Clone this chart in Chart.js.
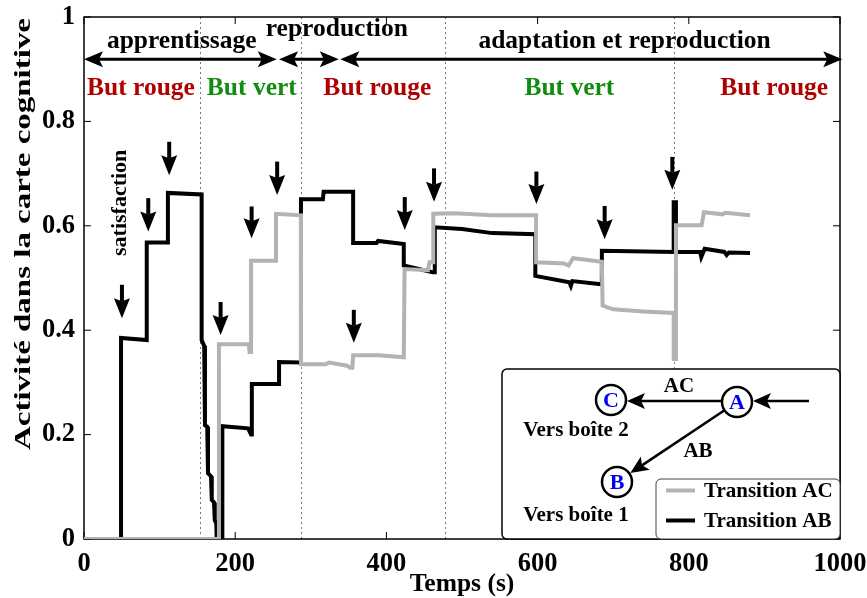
<!DOCTYPE html>
<html><head><meta charset="utf-8">
<script src="https://cdn.jsdelivr.net/npm/chart.js@4/dist/chart.umd.min.js"></script>
<style>html,body{margin:0;padding:0;background:#fff;}canvas{display:block;}</style>
</head><body>
<canvas id="c" width="867" height="598"></canvas>
<script>
const FONT = '"Liberation Serif", "Times New Roman", serif';

// ---- axes ----
const xTicks = [0, 200, 400, 600, 800, 1000];
const xTickLabels = ['0', '200', '400', '600', '800', '1000'];
const yTicks = [0, 0.2, 0.4, 0.6, 0.8, 1];
const yTickLabels = ['0', '0.2', '0.4', '0.6', '0.8', '1'];

// ---- series: Transition AC (gray) ----
const acTime  = [0, 178.5, 178.5, 218, 219, 221, 221, 254, 254, 287, 287, 320, 324, 348, 352, 355, 356, 390, 423, 424, 455, 457, 462, 462, 490, 540, 598, 598, 635, 641, 647, 685, 686, 700, 740, 780, 780, 783, 783, 817, 820, 845, 848, 881];
const acValue = [0, 0, 0.373, 0.373, 0.358, 0.358, 0.533, 0.533, 0.623, 0.62, 0.335, 0.335, 0.338, 0.332, 0.328, 0.328, 0.352, 0.352, 0.348, 0.517, 0.515, 0.53, 0.53, 0.623, 0.624, 0.62, 0.62, 0.53, 0.528, 0.524, 0.538, 0.531, 0.447, 0.44, 0.436, 0.433, 0.345, 0.345, 0.601, 0.601, 0.626, 0.622, 0.625, 0.62];

// ---- series: Transition AB (black) ----
const abTime  = [0, 49, 49, 83, 83, 111, 111, 155.6, 155.6, 159, 160, 163, 164, 168, 169, 172, 173, 175, 175.5, 183, 183, 217, 221, 222, 222, 258, 258, 287, 287, 316, 317, 356, 356, 387, 389, 423, 423, 461, 464, 464, 500, 540, 597, 597, 642, 644, 646, 684, 685, 780, 780, 783, 783, 815, 816.5, 821, 847, 850, 853, 881];
const abValue = [0, 0, 0.385, 0.381, 0.568, 0.568, 0.663, 0.66, 0.381, 0.37, 0.218, 0.215, 0.126, 0.12, 0.075, 0.07, 0.036, 0.03, 0, 0, 0.216, 0.212, 0.2, 0.2, 0.297, 0.297, 0.339, 0.338, 0.651, 0.651, 0.665, 0.665, 0.567, 0.567, 0.571, 0.565, 0.524, 0.511, 0.511, 0.597, 0.594, 0.586, 0.584, 0.504, 0.492, 0.485, 0.494, 0.488, 0.552, 0.55, 0.645, 0.645, 0.55, 0.55, 0.54, 0.556, 0.55, 0.544, 0.549, 0.548];

// ---- annotations (data units) ----
const phaseBounds = [154, 287, 478, 781];
const phaseArrowStart = [0, 258, 339];
const phaseArrowEnd   = [255, 337, 1003];
const phaseArrowLevel = 0.919;
const phaseLabels = ['apprentissage', 'reproduction', 'adaptation et reproduction'];
const phaseLabelT = [129.3, 334.4, 715];
const phaseLabelV = [0.954, 0.977, 0.954];
const goalLabels = ['But rouge', 'But vert', 'But rouge', 'But vert', 'But rouge'];
const goalKinds  = ['rouge', 'vert', 'rouge', 'vert', 'rouge'];
const goalT = [75.3, 222, 388, 642, 913];
const goalV = 0.863;
const arrowT    = [50.2, 85, 112.7, 180.7, 221.7, 255.5, 356.9, 424.3, 463, 598.4, 688.7, 778.2];
const arrowTail = [0.487, 0.653, 0.761, 0.454, 0.637, 0.723, 0.439, 0.655, 0.71, 0.704, 0.638, 0.732];
const arrowTip  = [0.423, 0.589, 0.697, 0.391, 0.576, 0.659, 0.376, 0.592, 0.646, 0.642, 0.574, 0.669];
const satisfactionT = 48.2, satisfactionV = 0.644;

const COLORS = { rouge: '#b00000', vert: '#118c11', ac: '#b3b3b3', ab: '#000000', node: '#0000ee' };

function headTri(ctx, tx, ty, dx, dy, len, half, notch) {
  const bx = tx - dx * len, by = ty - dy * len;
  const px = -dy, py = dx;
  ctx.beginPath();
  ctx.moveTo(tx, ty);
  ctx.lineTo(bx + px * half, by + py * half);
  ctx.lineTo(tx - dx * (len - notch), ty - dy * (len - notch));
  ctx.lineTo(bx - px * half, by - py * half);
  ctx.closePath();
  ctx.fill();
}
function arrowLine(ctx, x1, y1, x2, y2, lw, len, half, notch) {
  const L = Math.hypot(x2 - x1, y2 - y1);
  const dx = (x2 - x1) / L, dy = (y2 - y1) / L;
  ctx.lineWidth = lw;
  ctx.beginPath();
  ctx.moveTo(x1, y1);
  ctx.lineTo(x2 - dx * (len - notch), y2 - dy * (len - notch));
  ctx.stroke();
  headTri(ctx, x2, y2, dx, dy, len, half, notch);
}

const decor = {
  id: 'decor',
  beforeDatasetsDraw(chart) {
    const { ctx, chartArea: a, scales: { x, y } } = chart;
    ctx.save();
    ctx.strokeStyle = '#777';
    ctx.lineWidth = 1;
    ctx.setLineDash([2, 3]);
    phaseBounds.forEach(t => {
      const px = Math.round(x.getPixelForValue(t)) + 0.5;
      ctx.beginPath(); ctx.moveTo(px, a.top); ctx.lineTo(px, a.bottom); ctx.stroke();
    });
    ctx.setLineDash([]);
    ctx.strokeStyle = '#000';
    ctx.lineWidth = 1.5;
    ctx.strokeRect(a.left, a.top, a.right - a.left, a.bottom - a.top);
    ctx.lineWidth = 1;
    xTicks.forEach(v => {
      const px = x.getPixelForValue(v);
      ctx.beginPath();
      ctx.moveTo(px, a.bottom); ctx.lineTo(px, a.bottom - 7);
      ctx.moveTo(px, a.top); ctx.lineTo(px, a.top + 7);
      ctx.stroke();
    });
    yTicks.forEach(v => {
      const py = y.getPixelForValue(v);
      ctx.beginPath();
      ctx.moveTo(a.left, py); ctx.lineTo(a.left + 7, py);
      ctx.moveTo(a.right, py); ctx.lineTo(a.right - 7, py);
      ctx.stroke();
    });
    ctx.restore();
  },
  afterDatasetsDraw(chart) {
    const { ctx, chartArea: a, scales: { x, y } } = chart;
    ctx.save();
    ctx.fillStyle = '#000'; ctx.strokeStyle = '#000';
    arrowT.forEach((t, i) => {
      const px = x.getPixelForValue(t);
      arrowLine(ctx, px, y.getPixelForValue(arrowTail[i]), px, y.getPixelForValue(arrowTip[i]), 4, 20, 8, 3);
    });
    const ay = y.getPixelForValue(phaseArrowLevel);
    phaseArrowStart.forEach((s, i) => {
      const x1 = x.getPixelForValue(s), x2 = x.getPixelForValue(phaseArrowEnd[i]);
      ctx.lineWidth = 3;
      ctx.beginPath(); ctx.moveTo(x1 + 10, ay); ctx.lineTo(x2 - 10, ay); ctx.stroke();
      headTri(ctx, x2, ay, 1, 0, 19, 8, 4);
      headTri(ctx, x1, ay, -1, 0, 19, 8, 4);
    });
    ctx.textAlign = 'center'; ctx.textBaseline = 'middle';
    ctx.font = `bold 25.5px ${FONT}`;
    phaseLabels.forEach((l, i) => {
      ctx.fillText(l, x.getPixelForValue(phaseLabelT[i]), y.getPixelForValue(phaseLabelV[i]));
    });
    goalLabels.forEach((l, i) => {
      ctx.fillStyle = COLORS[goalKinds[i]];
      ctx.fillText(l, x.getPixelForValue(goalT[i]), y.getPixelForValue(goalV));
    });
    ctx.fillStyle = '#000';
    ctx.save();
    ctx.translate(x.getPixelForValue(satisfactionT), y.getPixelForValue(satisfactionV));
    ctx.rotate(-Math.PI / 2);
    ctx.font = `bold 22px ${FONT}`;
    ctx.fillText('satisfaction', 0, 0);
    ctx.restore();
    ctx.save();
    ctx.translate(24, 234);
    ctx.rotate(-Math.PI / 2);
    ctx.font = `bold 24px ${FONT}`;
    const yt = 'Activité dans la carte cognitive';
    const w = ctx.measureText(yt).width;
    ctx.scale(432 / w, 1);
    ctx.fillText(yt, 0, 0);
    ctx.restore();

    const ox = a.right - 338, oy = a.bottom - 170;
    function rr(x0, y0, w0, h0, r) {
      ctx.beginPath();
      ctx.moveTo(x0 + r, y0); ctx.lineTo(x0 + w0 - r, y0); ctx.arcTo(x0 + w0, y0, x0 + w0, y0 + r, r);
      ctx.lineTo(x0 + w0, y0 + h0 - r); ctx.arcTo(x0 + w0, y0 + h0, x0 + w0 - r, y0 + h0, r);
      ctx.lineTo(x0 + r, y0 + h0); ctx.arcTo(x0, y0 + h0, x0, y0 + h0 - r, r);
      ctx.lineTo(x0, y0 + r); ctx.arcTo(x0, y0, x0 + r, y0, r);
      ctx.closePath();
    }
    ctx.fillStyle = '#fff'; ctx.strokeStyle = '#000'; ctx.lineWidth = 1.5;
    rr(ox, oy, 338, 170, 5); ctx.fill(); ctx.stroke();
    const A = [ox + 235, oy + 33], C = [ox + 109, oy + 31], B = [ox + 115, oy + 113], R = 15;
    ctx.fillStyle = '#000';
    arrowLine(ctx, ox + 307, oy + 32, A[0] + R + 1, oy + 32, 2.5, 18, 8, 4);
    arrowLine(ctx, A[0] - R, oy + 32, C[0] + R + 1, oy + 32, 2.5, 18, 8, 4);
    {
      const dx = B[0] - A[0], dy = B[1] - A[1], L = Math.hypot(dx, dy);
      arrowLine(ctx, A[0] + dx / L * R, A[1] + dy / L * R, B[0] - dx / L * (R + 1), B[1] - dy / L * (R + 1), 2.5, 18, 8, 4);
    }
    [[A, 'A'], [B, 'B'], [C, 'C']].forEach(([p, l]) => {
      ctx.beginPath(); ctx.arc(p[0], p[1], R, 0, Math.PI * 2);
      ctx.fillStyle = '#fff'; ctx.fill(); ctx.lineWidth = 2.5; ctx.strokeStyle = '#000'; ctx.stroke();
      ctx.fillStyle = COLORS.node; ctx.font = `bold 22px ${FONT}`;
      ctx.fillText(l, p[0], p[1] + 1);
    });
    ctx.fillStyle = '#000';
    ctx.font = `bold 21px ${FONT}`;
    ctx.fillText('AC', ox + 177, oy + 18);
    ctx.fillText('AB', ox + 196, oy + 83);
    ctx.fillText('Vers boîte 2', ox + 74, oy + 62);
    ctx.fillText('Vers boîte 1', ox + 74, oy + 147);
    ctx.lineWidth = 1; ctx.strokeStyle = '#444'; ctx.fillStyle = '#fff';
    rr(ox + 154, oy + 110, 184, 60, 5); ctx.fill(); ctx.stroke();
    const items = chart.data.datasets;
    const ly = [oy + 121.5, oy + 151.5];
    items.forEach((d, i) => {
      ctx.strokeStyle = d.borderColor; ctx.lineWidth = 4;
      ctx.beginPath(); ctx.moveTo(ox + 164, ly[i]); ctx.lineTo(ox + 193, ly[i]); ctx.stroke();
      ctx.fillStyle = '#000'; ctx.textAlign = 'left';
      ctx.fillText(d.label, ox + 202, ly[i] + 1);
    });
    ctx.restore();
  }
};

new Chart(document.getElementById('c'), {
  type: 'line',
  data: {
    datasets: [
      { label: 'Transition AC', data: acTime.map((t, i) => ({ x: t, y: acValue[i] })), borderColor: COLORS.ac, borderWidth: 4, pointRadius: 0, tension: 0, fill: false, borderJoinStyle: 'miter' },
      { label: 'Transition AB', data: abTime.map((t, i) => ({ x: t, y: abValue[i] })), borderColor: COLORS.ab, borderWidth: 4, pointRadius: 0, tension: 0, fill: false, borderJoinStyle: 'miter' }
    ]
  },
  options: {
    responsive: false, animation: false, devicePixelRatio: 1,
    layout: { padding: { top: 17, right: 27, left: 0, bottom: 0 } },
    plugins: { legend: { display: false }, tooltip: { enabled: false } },
    scales: {
      x: {
        type: 'linear', min: 0, max: 1000,
        afterBuildTicks: s => { s.ticks = xTicks.map(v => ({ value: v })); },
        grid: { display: false, drawTicks: false }, border: { display: false },
        ticks: { font: { family: FONT, size: 26.5, weight: 'bold' }, color: '#000', padding: 9, maxRotation: 0, autoSkip: false,
                 callback: (v, i) => xTickLabels[i] },
        title: { display: true, text: 'Temps (s)', font: { family: FONT, size: 25.5, weight: 'bold' }, color: '#000', padding: { top: 0, bottom: -2 } },
        afterFit: s => { s.height = 59; s.paddingLeft = 0; s.paddingRight = 0; }
      },
      y: {
        type: 'linear', min: 0, max: 1,
        afterBuildTicks: s => { s.ticks = yTicks.map(v => ({ value: v })); },
        grid: { display: false, drawTicks: false }, border: { display: false },
        ticks: { font: { family: FONT, size: 26.5, weight: 'bold' }, color: '#000', padding: 9, autoSkip: false,
                 callback: (v, i) => yTickLabels[i] },
        afterFit: s => { s.width = 84; s.paddingTop = 0; s.paddingBottom = 0; }
      }
    }
  },
  plugins: [decor]
});
</script>
</body></html>
